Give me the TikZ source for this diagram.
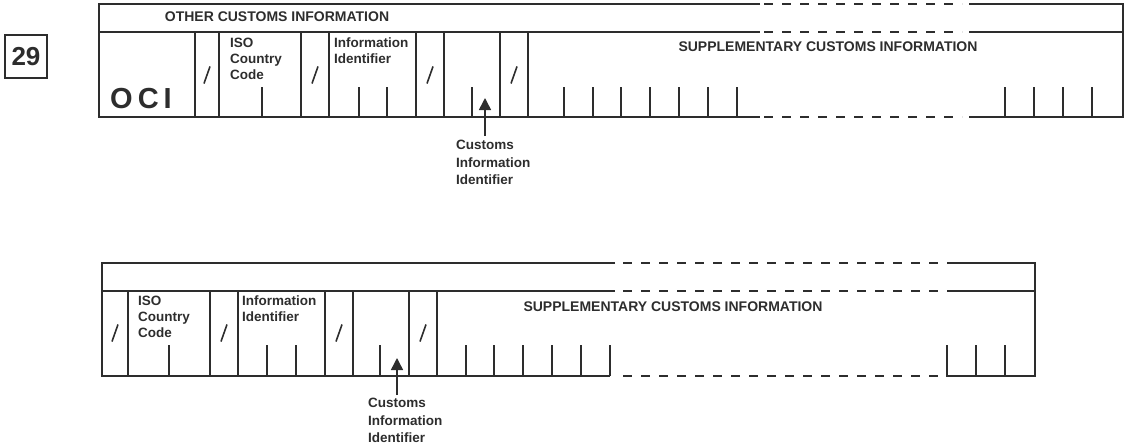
\documentclass[tikz,border=0pt]{standalone}
\usepackage{fontspec}
\setmainfont{Liberation Sans}
\usetikzlibrary{arrows.meta}
\definecolor{ink}{RGB}{45,45,45}
\tikzset{
  border/.style={line width=1.8pt, draw=ink},
  dashline/.style={line width=1.8pt, draw=ink, dash pattern=on 9pt off 9pt},
  tickline/.style={line width=1.5pt, draw=ink},
  slashline/.style={line width=1.6pt, draw=ink},
  lbl/.style={inner sep=0pt, text=ink, font=\fontsize{13.5}{16}\selectfont\bfseries, align=left, anchor=north west},
  head/.style={inner sep=0pt, text=ink, font=\fontsize{14}{16}\selectfont\bfseries},
  arrowline/.style={line width=1.5pt, draw=ink, -{Triangle[width=12pt,length=12pt]}}
}
\begin{document}
\begin{tikzpicture}[x=1pt,y=-1pt]
\useasboundingbox (0,0) rectangle (1125,447);
% box 29
\node[draw=ink, line width=1.5pt, minimum width=42pt, minimum height=43pt, inner sep=0pt, text=ink, font=\fontsize{26}{26}\selectfont\bfseries] (num) at (26,56.5) {29};

% ===== top diagram =====
\draw[border] (760,4) -- (99,4) -- (99,117) -- (760,117);
\draw[border] (99,32) -- (760,32);
\draw[dashline] (764,4) -- (962,4);
\draw[dashline] (764,32) -- (962,32);
\draw[dashline] (764,117) -- (962,117);
\draw[border] (969,4) -- (1123,4) -- (1123,117) -- (969,117);
\draw[border] (969,32) -- (1123,32);
\foreach \x in {195,219,301,329,416,444,500,528} \draw[border] (\x,32) -- (\x,117);
\foreach \x in {262,359,387,472,564,593,621,650,679,708,737,1005,1034,1063,1092} \draw[tickline] (\x,87) -- (\x,117);
\foreach \x in {207,315,430,514} \draw[slashline] (\x-3,83.5) -- (\x+3,66.5);

\node[head] (oci-head) at (277,17) {OTHER CUSTOMS INFORMATION};
\node[head] (supp1) at (828,47) {SUPPLEMENTARY CUSTOMS INFORMATION};
\node[inner sep=0pt, text=ink, font=\fontsize{29}{29}\selectfont\bfseries, anchor=base west] (oci) at (110,108) {O\kern5pt C\kern5pt I};
\node[lbl] (iso1) at (230,38) {ISO\\Country\\Code};
\node[lbl] (info1) at (334,38) {Information\\Identifier};
\node[lbl, font=\fontsize{13.5}{17.5}\selectfont\bfseries] (cust1) at (456,140) {Customs\\Information\\Identifier};
\coordinate (tip1) at (485,98);
\draw[arrowline] (485,136) -- (tip1);

% ===== bottom diagram =====
\draw[border] (615,263) -- (102,263) -- (102,376) -- (610,376);
\draw[border] (102,291) -- (615,291);
\draw[dashline] (623,263) -- (940,263);
\draw[dashline] (623,291) -- (940,291);
\draw[dashline] (623,376) -- (940,376);
\draw[border] (947,263) -- (1035,263) -- (1035,376) -- (947,376) -- (947,345);
\draw[border] (947,291) -- (1035,291);
\foreach \x in {128,210,238,325,353,409,437} \draw[border] (\x,291) -- (\x,376);
\foreach \x in {169,267,296,380,466,494,523,552,581,610,976,1005} \draw[tickline] (\x,345) -- (\x,376);
\foreach \x in {115,224,339,423} \draw[slashline] (\x-3,341.5) -- (\x+3,324.5);

\node[head] (supp2) at (673,307) {SUPPLEMENTARY CUSTOMS INFORMATION};
\node[lbl] (iso2) at (138,296) {ISO\\Country\\Code};
\node[lbl] (info2) at (242,296) {Information\\Identifier};
\node[lbl, font=\fontsize{13.5}{17.5}\selectfont\bfseries] (cust2) at (368,398) {Customs\\Information\\Identifier};
\coordinate (tip2) at (397,358);
\draw[arrowline] (397,395) -- (tip2);
\end{tikzpicture}
\end{document}
